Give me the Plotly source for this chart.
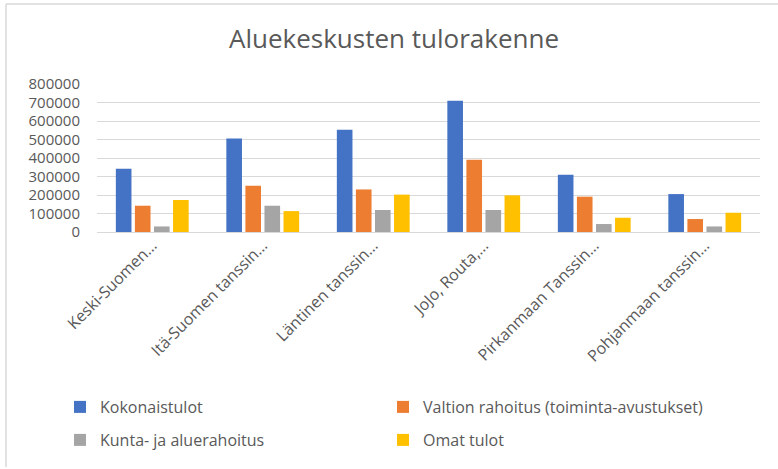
import plotly.graph_objects as go

categories = ["Keski-Suomen…", "Itä-Suomen tanssin…", "Läntinen tanssin…",
              "JoJo, Routa,…", "Pirkanmaan Tanssin…", "Pohjanmaan tanssin…"]
kokonaistulot = [342000, 506000, 553000, 710000, 310000, 205000]
valtion_rahoitus = [142000, 250000, 230000, 391000, 191000, 70000]
kunta_rahoitus = [30000, 142000, 119000, 119000, 43000, 30000]
omat_tulot = [173000, 113000, 202000, 198000, 77000, 104000]

series_names = ["Kokonaistulot", "Valtion rahoitus (toiminta-avustukset)",
                "Kunta- ja aluerahoitus", "Omat tulot"]
series_values = [kokonaistulot, valtion_rahoitus, kunta_rahoitus, omat_tulot]
colors = ["#4472C4", "#ED7D31", "#A5A5A5", "#FFC000"]
legend_ids = ["legend", "legend", "legend2", "legend2"]

W, H = 778, 469
ml, mr, mt, mb = 97, 18, 84, 237

fig = go.Figure()
for name, vals, c, lg in zip(series_names, series_values, colors, legend_ids):
    fig.add_trace(go.Bar(x=categories, y=vals, name=name, marker_color=c,
                         marker_line_width=0, legend=lg))

txt = "#595959"
font = "Open Sans"
pw = W - ml - mr
ph = H - mt - mb

def px_x(p):
    return (p - ml) / pw

def px_y(p):
    return (H - mb - p) / ph

leg_common = dict(orientation="h", xanchor="left", yanchor="middle",
                  entrywidth=278, entrywidthmode="pixels",
                  font=dict(size=16, color=txt), traceorder="normal",
                  bgcolor="rgba(0,0,0,0)")

fig.update_layout(
    width=W, height=H,
    margin=dict(l=ml, r=mr, t=mt, b=mb),
    paper_bgcolor="white", plot_bgcolor="white",
    font=dict(family=font, color=txt),
    barmode="group", bargap=0.31, bargroupgap=0.18,
    title=dict(text="Aluekeskusten tulorakenne", x=394 / W, xanchor="center",
               y=1 - 39 / H, yanchor="middle",
               font=dict(size=26, family=font, color=txt)),
    xaxis=dict(tickangle=-45, tickfont=dict(size=16, color=txt),
               showline=False, showgrid=False, ticks="", automargin=False),
    yaxis=dict(range=[0, 800000], dtick=100000, tickformat="d",
               gridcolor="#D9D9D9", gridwidth=1, zeroline=True,
               zerolinecolor="#D9D9D9", zerolinewidth=1,
               tickfont=dict(size=15, color=txt), ticks="", automargin=False,
               ticklabelstandoff=16),
    legend=dict(x=px_x(60), y=px_y(407), **leg_common),
    legend2=dict(x=px_x(60), y=px_y(440), **leg_common),
    shapes=[
        dict(type="line", xref="paper", yref="paper",
             x0=px_x(6), x1=px_x(790), y0=px_y(4), y1=px_y(4),
             line=dict(color="#D9D9D9", width=1.5)),
        dict(type="line", xref="paper", yref="paper",
             x0=px_x(6), x1=px_x(6), y0=px_y(4), y1=px_y(467),
             line=dict(color="#D9D9D9", width=1.5)),
    ],
)

fig.write_html("out.html", config={"displayModeBar": False},
               post_script="document.body.style.margin='0px';document.body.style.overflow='hidden';")
